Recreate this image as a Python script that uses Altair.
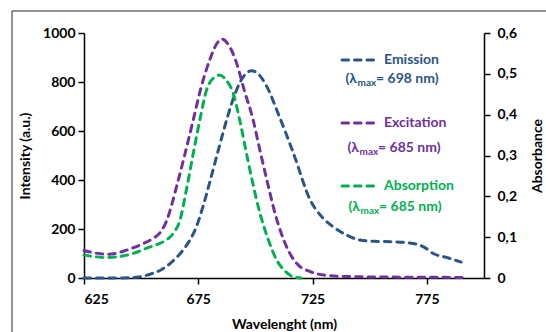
import altair as alt
import pandas as pd

# ---------------- data ----------------
em_wl = [625, 640, 648, 655, 659, 663, 668, 671, 674, 677, 680, 684, 687.4, 691, 695, 698.3,
         701, 705, 710, 716.6, 724, 729, 734, 740, 745.7, 752, 760, 769, 774, 777.8, 784, 790]
em_val = [0, 0, 3, 19, 35, 62, 110, 150, 205, 290, 390, 530, 645, 750, 825, 846,
          835, 781, 670, 510, 318, 250, 209, 175, 155, 150, 148, 141, 125, 100, 83, 65]

ex_wl = [625, 630, 635, 640, 643.7, 647, 651, 655, 658, 661, 665.5, 669, 672.8, 676, 680, 683,
         685.5, 688, 691.8, 695, 699, 702, 705, 709, 713.6, 718, 724, 730, 740, 755, 775, 791]
ex_val = [112, 102, 97, 103, 114, 125, 141, 160, 182, 230, 373, 500, 645, 770, 890, 955,
          975, 955, 876, 770, 645, 520, 400, 250, 128, 60, 26, 12, 6, 4, 3, 2]

ab_wl = [625, 630, 635, 643.7, 648, 652.4, 656, 659.7, 664, 667, 670, 672.8, 676, 678.6, 681.5,
         684.2, 687, 690.3, 693, 696.1, 699, 702, 705.5, 709.3, 713, 716.6, 720]
ab_val = [0.056, 0.052, 0.050, 0.056, 0.063, 0.073, 0.080, 0.089, 0.109, 0.142, 0.222, 0.305,
          0.396, 0.460, 0.489, 0.497, 0.486, 0.452, 0.390, 0.305, 0.228, 0.158, 0.096, 0.044,
          0.017, 0.003, 0.0]

x_ticks = [625, 675, 725, 775]
y_ticks = [0, 200, 400, 600, 800, 1000]
y2_ticks = [0, 0.1, 0.2, 0.3, 0.4, 0.5, 0.6]

series_names = ["Emission", "Excitation", "Absorption"]
series_lmax = ["= 698 nm)", "= 685 nm)", "= 685 nm)"]
series_colors = ["#2A5587", "#7030A0", "#00B050"]

FONT = "Lato"
DASH = [6.5, 6]

em_df = pd.DataFrame({"wl": em_wl, "v": em_val})
ex_df = pd.DataFrame({"wl": ex_wl, "v": ex_val})
ab_df = pd.DataFrame({"wl": ab_wl, "v": ab_val})

xenc = alt.X("wl:Q", scale=alt.Scale(domain=[625, 800], nice=False, zero=False),
             axis=alt.Axis(values=x_ticks, title="Wavelenght (nm)", labelPadding=8,
                           titlePadding=11, format="d"))
yleft = alt.Y("v:Q", scale=alt.Scale(domain=[0, 1000], nice=False),
              axis=alt.Axis(values=y_ticks, title="Intensity (a.u.)", orient="left",
                            labelPadding=3, titlePadding=10, format="d"))
yright = alt.Y("v:Q", scale=alt.Scale(domain=[0, 0.6], nice=False),
               axis=alt.Axis(values=y2_ticks, title="Absorbance", orient="right",
                             labelExpr="datum.value == 0 ? '0' : replace(format(datum.value, '.1f'), '.', ',')",
                             labelPadding=7, titlePadding=28, titleAngle=270))

def line(df, color, y):
    return alt.Chart(df).mark_line(color=color, strokeWidth=3, strokeDash=DASH,
                                   strokeCap="round", interpolate="monotone").encode(x=xenc, y=y)

em_line = line(em_df, series_colors[0], yleft)
ex_line = line(ex_df, series_colors[1], yleft)
ab_line = line(ab_df, series_colors[2], yright)

# ---------------- custom legend ----------------
legend_layers = []
sample_y = [27, 90, 153]
line2_y = [46, 115, 174]
paren_x = [273, 275, 276]
eq_x = [292, 294, 295]
anchor = pd.DataFrame({"a": [0]})
for i in range(3):
    c = series_colors[i]
    legend_layers.append(
        alt.Chart(anchor).mark_rule(color=c, strokeWidth=3, strokeDash=DASH, strokeCap="round").encode(
            x=alt.value(258), x2=alt.value(293), y=alt.value(sample_y[i])))
    legend_layers.append(
        alt.Chart(anchor).mark_text(text=series_names[i], color=c, font=FONT, fontWeight="bold",
                                    fontSize=14, align="left", baseline="middle").encode(
            x=alt.value(300), y=alt.value(sample_y[i])))
    legend_layers.append(
        alt.Chart(anchor).mark_text(text="(λ", color=c, font=FONT, fontWeight="bold",
                                    fontSize=14, align="right", baseline="middle").encode(
            x=alt.value(paren_x[i]), y=alt.value(line2_y[i])))
    legend_layers.append(
        alt.Chart(anchor).mark_text(text="max", color=c, font=FONT, fontWeight="bold",
                                    fontSize=10, align="left", baseline="middle").encode(
            x=alt.value(paren_x[i] + 0.5), y=alt.value(line2_y[i] + 4)))
    legend_layers.append(
        alt.Chart(anchor).mark_text(text=series_lmax[i], color=c, font=FONT, fontWeight="bold",
                                    fontSize=14, align="left", baseline="middle").encode(
            x=alt.value(eq_x[i]), y=alt.value(line2_y[i])))

border = alt.Chart(anchor).mark_rect(fillOpacity=0, stroke="#262626", strokeWidth=1).encode(
    x=alt.value(-72), x2=alt.value(475), y=alt.value(-22), y2=alt.value(310))

left = alt.layer(border, em_line, ex_line, *legend_layers)

chart = alt.layer(left, ab_line).resolve_scale(y="independent").properties(
    width=400, height=245,
    background="white",
    autosize=alt.AutoSizeParams(type="none"),
    padding={"left": 84, "top": 33, "right": 62, "bottom": 54},
).configure_view(stroke="transparent").configure_axis(
    grid=False,
    domainColor="black", domainWidth=1.5,
    tickColor="black", tickWidth=1.5, tickSize=6,
    labelFont=FONT, labelFontWeight="bold", labelFontSize=14, labelColor="black",
    titleFont=FONT, titleFontWeight="bold", titleFontSize=14, titleColor="black",
)

chart.save("out.html", embed_options={"renderer": "svg", "actions": False})
